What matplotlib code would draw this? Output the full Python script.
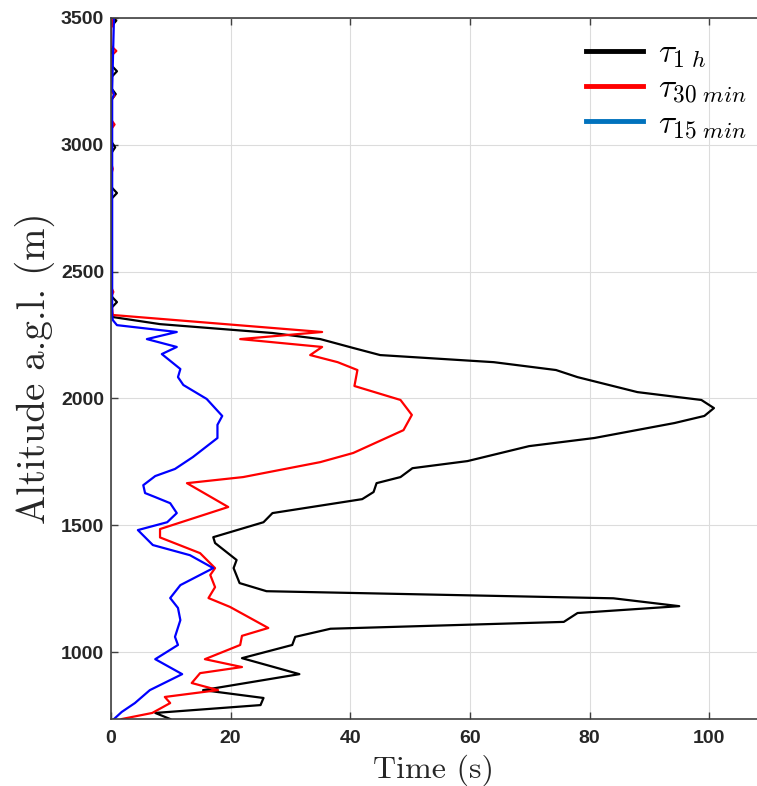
import matplotlib
matplotlib.use('Agg')
from matplotlib import pyplot as plt
from matplotlib.lines import Line2D

plt.rcParams['mathtext.fontset'] = 'cm'
plt.rcParams['font.family'] = ['Liberation Sans', 'DejaVu Sans']

# time scale profiles (s) vs altitude (m)
alt_1h = [3500, 3490, 3465, 3315, 3290, 3265, 3225, 3200, 3175, 3015, 2990, 2965,
          2835, 2810, 2785, 2405, 2380, 2355, 2321, 2293, 2258, 2234, 2199, 2171,
          2143, 2112, 2084, 2025, 1994, 1962, 1931, 1903, 1844, 1812, 1753, 1725,
          1690, 1666, 1631, 1603, 1548, 1512, 1453, 1430, 1363, 1331, 1272, 1240,
          1212, 1181, 1154, 1119, 1092, 1060, 1028, 976, 913, 850, 819, 791, 760, 736]
t_1h = [0.3, 0.9, 0, 0, 1.0, 0, 0, 0.8, 0, 0, 0.7, 0,
        0, 1.0, 0, 0, 1.0, 0, 0.3, 8.2, 27, 35, 40.5, 45,
        64, 74.4, 78, 88, 98.7, 100.8, 99.2, 94.2, 80.8, 69.9, 59.6, 50.4,
        48.4, 44.4, 43.9, 42, 27, 25.5, 17.1, 17.4, 21, 20.5, 21.5, 26,
        84, 95, 78, 75.7, 36.7, 30.8, 30.3, 21.9, 31.5, 15.4, 25.5, 25, 7.4, 9.9]

alt_30 = [3500, 3480, 3460, 3390, 3370, 3350, 3215, 3195, 3175, 3100, 3080, 3060,
          2930, 2905, 2880, 2440, 2420, 2400, 2329, 2262, 2234, 2203, 2171, 2143,
          2112, 2049, 1994, 1935, 1875, 1785, 1749, 1690, 1666, 1572, 1485, 1452,
          1390, 1331, 1304, 1256, 1213, 1178, 1095, 1064, 1028, 972, 941, 917,
          878, 850, 823, 799, 760, 736]
t_30 = [0, 0.4, 0, 0, 0.9, 0, 0, 0.6, 0, 0, 0.6, 0,
        0, 0.3, 0, 0, 0.4, 0, 0.3, 35.3, 21.6, 35.3, 33.3, 37.9,
        41.2, 40.7, 48.4, 50.3, 48.9, 40.5, 35, 22.1, 12.7, 19.6, 8.2, 8.2,
        14.9, 17.4, 16.6, 17.4, 16.3, 19.9, 26.3, 21.9, 21.6, 15.7, 21.9, 14.9,
        13.5, 17.9, 9, 9.9, 6.9, 1.8]

alt_15 = [3500, 3220, 3200, 3180, 2330, 2309, 2289, 2262, 2234, 2203, 2175, 2116,
          2084, 2053, 1998, 1931, 1896, 1844, 1769, 1722, 1694, 1658, 1627, 1611,
          1587, 1548, 1512, 1481, 1422, 1382, 1331, 1264, 1213, 1174, 1126, 1060,
          1028, 972, 913, 850, 799, 764, 736]
t_15 = [0.5, 0.2, 0.5, 0.2, 0.2, 0.3, 1, 11, 6, 11, 8.5, 11.6,
        11.2, 12.1, 16, 18.6, 17.8, 17.8, 13.7, 10.7, 7.4, 5.4, 5.7, 7.4,
        9.9, 11, 9.4, 4.5, 7, 13.2, 17.1, 11.6, 9.9, 11.2, 11.6, 10.7,
        11.2, 7.4, 11.9, 6.5, 4, 1.8, 0.5]

labels = [r'$\tau_{1\ h}$', r'$\tau_{30\ min}$', r'$\tau_{15\ min}$']

fig = plt.figure(figsize=(7.57, 7.86), dpi=100)
ax = fig.add_axes([0.1466, 0.0852, 0.8534, 0.8919])

ax.plot(t_1h, alt_1h, color='black', lw=1.6)
ax.plot(t_30, alt_30, color='red', lw=1.6)
ax.plot(t_15, alt_15, color='blue', lw=1.6)

ax.set_xlim(0, 108)
ax.set_ylim(736, 3500)
ax.set_xticks([0, 20, 40, 60, 80, 100])
ax.set_yticks([1000, 1500, 2000, 2500, 3000, 3500])
ax.grid(True, color='#dcdcdc', lw=0.8)
ax.set_axisbelow(True)
ax.tick_params(direction='in', top=True, right=False, length=5, width=1,
               color='#404040', labelsize=14)
ax.tick_params(axis='x', pad=8)
ax.tick_params(axis='y', pad=5)
for lab in ax.get_xticklabels() + ax.get_yticklabels():
    lab.set_fontweight('bold')
    lab.set_color('#262626')
ax.spines['right'].set_visible(False)
for s in ['left', 'bottom', 'top']:
    ax.spines[s].set_color('#404040')
    ax.spines[s].set_linewidth(1.2)

ax.set_xlabel('Time (s)', family='cmr10', fontsize=23, color='#262626', labelpad=5)
ax.set_ylabel('Altitude a.g.l. (m)', family='cmr10', fontsize=28, color='#262626',
              labelpad=4)

handles = [Line2D([], [], color='black', lw=3.5),
           Line2D([], [], color='red', lw=3.5),
           Line2D([], [], color='#0072BD', lw=3.5)]
ax.legend(handles, labels, loc='upper right', bbox_to_anchor=(1.03, 1.014),
          frameon=False, fontsize=24, handlelength=1.7, handletextpad=0.45,
          labelspacing=0.1)

fig.savefig('out.png', dpi=100)
